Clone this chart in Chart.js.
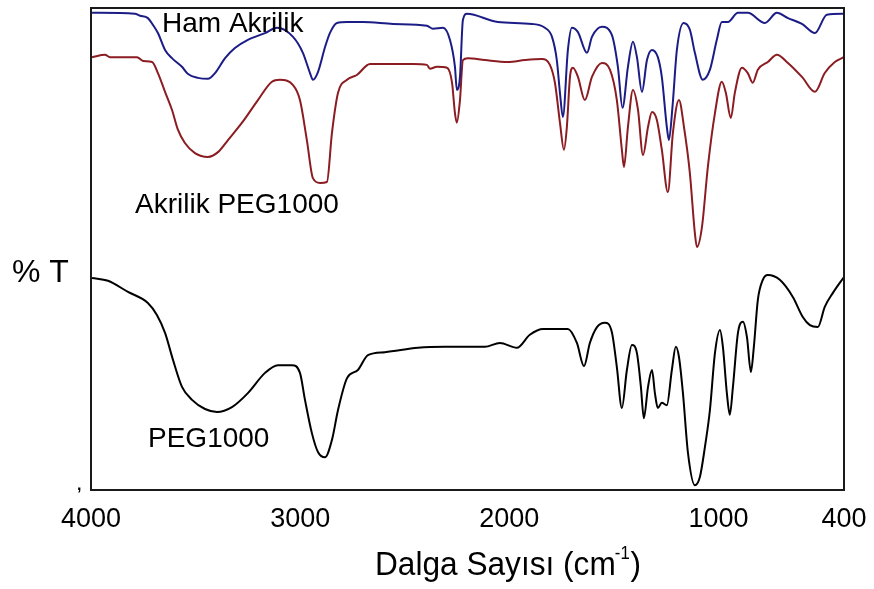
<!DOCTYPE html>
<html>
<head>
<meta charset="utf-8">
<script src="https://cdn.jsdelivr.net/npm/chart.js@4.4.1/dist/chart.umd.min.js"></script>
<style>
html,body{margin:0;padding:0;background:#fff;}
#wrap{width:874px;height:589px;position:relative;}
canvas{display:block;}
</style>
</head>
<body>
<div id="wrap"><canvas id="c" width="874" height="589"></canvas></div>
<script>
// ---- data (wavenumber in cm-1, relative transmittance %T) ----
const xTicks = [4000, 3000, 2000, 1000, 400];
const seriesNames = ['Ham Akrilik', 'Akrilik PEG1000', 'PEG1000'];

const hamWn = [3995,3790,3766,3728,3704,3680,3646,3613,3565,3536,3489,3441,3407,3359,3312,3250,3168,3111,3034,2987,
  2953,2939,2915,2881,2858,2824,2776,2700,2556,2394,2365,2317,2284,2260,2251,2236,2222,2203,2055,1892,
  1830,1796,1773,1758,1744,1720,1701,1672,1629,1605,1557,1510,1481,1459,1433,1409,1390,1366,1342,1318,
  1290,1271,1247,1237,1220,1199,1167,1137,1113,1075,1041,1008,984,955,907,860,778,721,668,601,
  539,482,400];
const hamT = [99.0,98.8,98.4,97.9,96.5,94.8,91.3,89.6,87.8,86.3,85.5,85.3,86.5,89.6,91.7,93.4,94.8,95.9,94.0,90.7,
  86.5,85.1,86.7,91.9,94.8,96.9,97.1,97.1,96.7,96.3,95.7,95.9,93.4,87.8,83.0,85.7,97.5,98.8,97.1,96.7,
  95.9,94.0,89.2,82.4,77.4,91.3,95.9,95.0,90.7,94.0,96.1,94.4,87.8,79.3,87.8,93.0,89.8,82.6,89.2,91.3,
  89.8,85.7,75.3,72.6,79.5,91.3,96.9,95.5,90.7,85.1,87.2,93.4,97.1,97.1,99.0,99.0,96.9,99.0,97.9,96.7,
  94.8,98.6,98.8];

const akrWn = [3995,3933,3909,3780,3751,3708,3680,3646,3613,3584,3551,3503,3441,3393,3345,3278,3202,3135,3097,3034,
  3001,2968,2939,2905,2872,2848,2819,2776,2729,2666,2461,2394,2380,2346,2298,2274,2260,2251,2236,2222,
  2198,2117,2007,1925,1844,1806,1782,1758,1739,1725,1710,1696,1672,1639,1605,1557,1519,1486,1462,1452,
  1433,1409,1385,1361,1337,1318,1295,1271,1242,1218,1189,1165,1137,1113,1103,1079,1051,1017,984,965,
  941,922,888,860,836,812,764,721,668,601,539,492,444,400];
const akrT = [89.8,90.3,89.8,89.8,89.0,88.8,86.5,82.6,78.9,74.7,72.0,69.9,69.1,70.1,72.6,76.2,80.9,84.7,85.1,84.0,
  80.9,72.6,64.7,63.7,63.9,74.1,82.4,85.1,86.1,88.4,88.4,88.2,87.4,87.8,87.6,84.5,78.2,76.2,80.9,89.2,
  89.6,89.2,88.8,89.2,89.4,88.2,84.5,76.2,70.6,75.3,85.7,87.6,85.7,80.9,85.7,88.6,87.2,80.9,70.6,67.0,
  75.3,83.0,78.9,69.5,75.3,78.4,76.8,70.6,61.8,74.1,80.9,75.3,65.8,53.3,50.4,54.6,67.0,78.2,84.7,82.4,
  77.2,82.4,87.6,86.5,84.5,87.2,88.8,90.3,88.6,85.7,82.6,86.5,88.8,89.8];

const pegWn = [3995,3919,3823,3728,3685,3646,3608,3565,3517,3455,3398,3326,3250,3168,3106,3039,3001,2977,2944,2915,
  2881,2848,2819,2776,2724,2676,2595,2437,2308,2117,2045,1964,1902,1839,1720,1677,1643,1615,1581,1543,
  1510,1486,1462,1438,1414,1390,1371,1357,1337,1318,1304,1290,1271,1247,1223,1204,1189,1170,1146,1113,
  1089,1065,1041,1017,993,979,960,946,931,907,883,864,845,831,812,788,764,707,644,597,
  563,525,492,453,400];
const pegT = [44.0,43.4,41.1,38.8,36.3,32.6,27.0,21.4,18.7,16.8,16.2,17.2,20.1,24.3,25.9,25.9,24.3,18.7,11.8,7.9,
  6.8,10.4,16.6,23.2,24.9,28.0,28.6,29.5,29.7,29.7,30.5,29.5,32.2,33.4,33.4,30.5,25.7,30.5,33.8,34.7,
  32.8,25.5,17.0,24.9,30.1,28.4,21.4,14.9,21.4,24.9,20.1,17.0,18.1,17.6,24.9,29.7,27.6,20.1,7.7,1.0,
  2.7,8.9,16.6,28.4,33.2,29.7,20.1,15.6,21.4,32.6,34.9,31.7,24.5,29.7,39.4,43.6,44.6,43.6,40.0,35.9,
  34.2,33.8,38.0,40.9,44.2];

function pts(wn, t){ return wn.map((w,i)=>({x:w, y:t[i]})); }

const labelPlugin = {
  id: 'labels',
  afterDraw(chart){
    const ctx = chart.ctx, a = chart.chartArea;
    ctx.save();
    // plot frame
    ctx.strokeStyle = '#1a1a1a';
    ctx.lineWidth = 2;
    ctx.strokeRect(a.left, a.top, a.right - a.left, a.bottom - a.top);
    // series labels
    ctx.fillStyle = '#000';
    ctx.textAlign = 'left';
    ctx.textBaseline = 'alphabetic';
    ctx.font = '28px "Liberation Sans", Arial, sans-serif';
    ctx.fillText(seriesNames[0], 162, 32);
    ctx.fillText(seriesNames[1], 135, 213);
    ctx.fillText(seriesNames[2], 148, 447);
    // y label
    ctx.font = '32px "Liberation Sans", Arial, sans-serif';
    ctx.fillText('% T', 12, 282);
    // small mark at lower-left corner
    ctx.font = 'bold 16px "Liberation Sans", Arial, sans-serif';
    ctx.fillText(',', 77, 490);
    // x axis title
    ctx.translate(375, 575);
    ctx.scale(0.93, 1);
    ctx.font = '34px "Liberation Sans", Arial, sans-serif';
    const t1 = 'Dalga Sayısı (cm';
    ctx.fillText(t1, 0, 0);
    let w = ctx.measureText(t1).width;
    ctx.font = '18px "Liberation Sans", Arial, sans-serif';
    ctx.fillText('-1', w - 1, -16);
    w += ctx.measureText('-1').width - 1;
    ctx.font = '34px "Liberation Sans", Arial, sans-serif';
    ctx.fillText(')', w + 1, 0);
    ctx.restore();
  }
};

new Chart(document.getElementById('c'), {
  type: 'line',
  data: {
    datasets: [
      { label: seriesNames[0], data: pts(hamWn, hamT), borderColor: '#1c1c86', borderWidth: 2,
        pointRadius: 0, cubicInterpolationMode: 'monotone', fill: false },
      { label: seriesNames[1], data: pts(akrWn, akrT), borderColor: '#8a1c22', borderWidth: 2,
        pointRadius: 0, cubicInterpolationMode: 'monotone', fill: false },
      { label: seriesNames[2], data: pts(pegWn, pegT), borderColor: '#000000', borderWidth: 2,
        pointRadius: 0, cubicInterpolationMode: 'monotone', fill: false }
    ]
  },
  options: {
    responsive: false,
    animation: false,
    devicePixelRatio: 1,
    layout: { padding: { left: 91, right: 30, top: 8, bottom: 0 } },
    plugins: { legend: { display: false }, tooltip: { enabled: false } },
    scales: {
      x: {
        type: 'linear',
        reverse: true,
        min: 400,
        max: 4000,
        afterBuildTicks(scale){ scale.ticks = xTicks.map(v => ({ value: v })); },
        afterFit(scale){ scale.height = 99; },
        grid: { display: false, drawTicks: false },
        border: { display: false },
        ticks: {
          autoSkip: false, maxRotation: 0, padding: 0, color: '#000',
          callback: v => String(v),
          font: { family: '"Liberation Sans", Arial, sans-serif', size: 27, lineHeight: 2.2 }
        }
      },
      y: {
        display: false,
        min: 0,
        max: 100
      }
    }
  },
  plugins: [labelPlugin]
});
</script>
</body>
</html>
